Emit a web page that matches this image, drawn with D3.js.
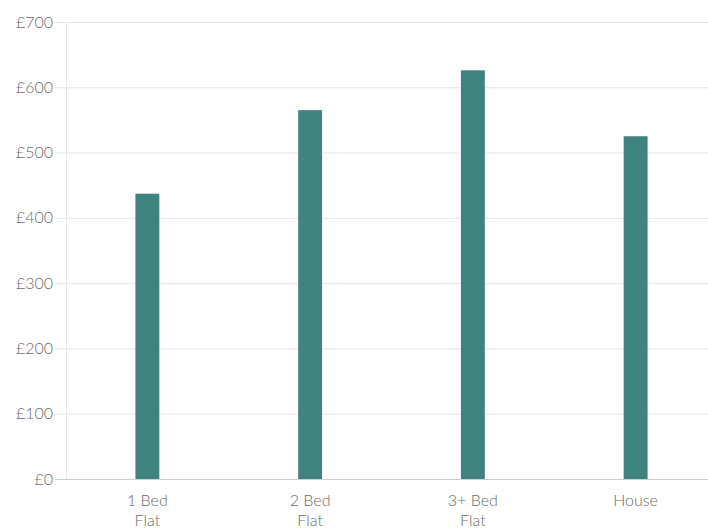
<!DOCTYPE html>
<html><head><meta charset="utf-8">
<script src="https://d3js.org/d3.v7.min.js"></script>
<style>body{margin:0;background:#fff;}svg{display:block;font-family:Lato, "Open Sans", sans-serif;}</style>
</head><body><svg id="c" width="708" height="530"></svg>
<script>
const categories = [["1 Bed","Flat"],["2 Bed","Flat"],["3+ Bed","Flat"],["House"]];
const values = [437, 565, 626, 525];
const yTicks = [0,100,200,300,400,500,600,700];

(function(){
const svg = d3.select("#c");
const mLeft = 66, mTop = 22, mBottom = 479, rightBand = 717;
const x = d3.scaleBand().domain(categories.map((d,i)=>i)).range([mLeft, rightBand]).paddingInner(0.853).paddingOuter(0.4265);
const y = d3.scaleLinear().domain([0,700]).range([mBottom, mTop]);

svg.append("g").selectAll("line").data(yTicks).join("line")
  .attr("x1", 55).attr("x2", 708)
  .attr("y1", d=>y(d)+0.5).attr("y2", d=>y(d)+0.5)
  .attr("stroke", d=> d===0 ? "#cfcfcf" : "#e6e6e6").attr("stroke-width",1);
svg.append("line").attr("x1",mLeft+0.5).attr("x2",mLeft+0.5).attr("y1",mTop).attr("y2",mBottom)
  .attr("stroke","#e6e6e6");

svg.append("g").selectAll("text").data(yTicks).join("text")
  .attr("x", 53).attr("y", d=>y(d)).attr("dy","0.35em")
  .attr("text-anchor","end").attr("fill","#6a6a6a").attr("font-size",16).attr("font-weight",300)
  .text(d=>"£"+d);

svg.append("g").selectAll("rect").data(values).join("rect")
  .attr("x",(d,i)=>x(i)).attr("width",x.bandwidth())
  .attr("y",d=>y(d)).attr("height",d=>y(0)-y(d))
  .attr("fill","#408280");

const xl = svg.append("g").selectAll("text").data(categories).join("text")
  .attr("x",(d,i)=>x(i)+x.bandwidth()/2).attr("y",506)
  .attr("text-anchor","middle").attr("fill","#6a6a6a").attr("font-size",16).attr("font-weight",300);
xl.each(function(d){
  const t = d3.select(this);
  d.forEach((s,j)=>t.append("tspan").attr("x",t.attr("x")).attr("dy", j===0?0:20).text(s));
});
})();
</script></body></html>
